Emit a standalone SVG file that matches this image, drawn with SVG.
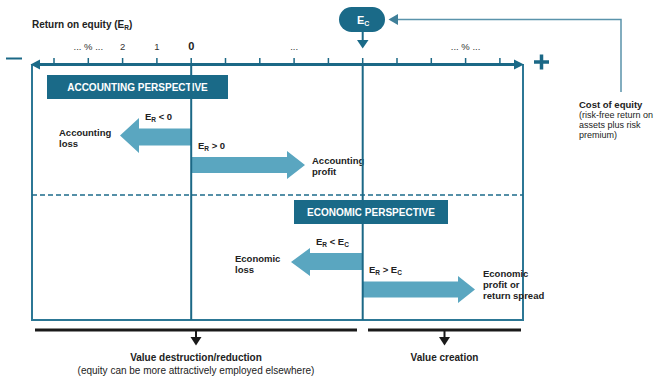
<svg xmlns="http://www.w3.org/2000/svg" width="660" height="380" viewBox="0 0 660 380">
<defs>
<style>
text{font-family:"Liberation Sans",Arial,sans-serif;fill:#222}
.b{font-weight:bold}
.lbl{font-size:9.5px;font-weight:bold}
.tick{font-size:9.5px;fill:#333}
.sub{font-size:6.5px}
.hdr{font-size:10px;font-weight:bold;fill:#fff}
.dark{fill:#1a6a88}
.light{fill:#5aa6c0}
.vl{stroke:#1b6886;stroke-width:2;fill:none}
.tk{stroke:#1b6886;stroke-width:1.5}
.blk{stroke:#1a1a1a;stroke-width:3}
</style>
</defs>
<rect width="660" height="380" fill="#fff"/>

<g id="frame">
<path d="M32,64 V320 H523 V64" fill="none" stroke="#2c7795" stroke-width="2"/>
<line x1="32" y1="195" x2="523" y2="195" stroke="#1d6b8a" stroke-width="1.5" stroke-dasharray="5 3"/>
</g>

<g id="axis">
<line x1="38" y1="64.5" x2="517" y2="64.5" stroke="#1b6886" stroke-width="3"/>
<polygon class="dark" points="30.5,64.5 40,59.5 40,69.5"/>
<polygon class="dark" points="524,64.5 514,59.5 514,69.5"/>
<g>
<line class="tk" x1="54" y1="58" x2="54" y2="64"/>
<line class="tk" x1="88.3" y1="58" x2="88.3" y2="64"/>
<line class="tk" x1="122.6" y1="58" x2="122.6" y2="64"/>
<line class="tk" x1="156.9" y1="58" x2="156.9" y2="64"/>
<line class="tk" x1="191.2" y1="58" x2="191.2" y2="64"/>
<line class="tk" x1="225.5" y1="58" x2="225.5" y2="64"/>
<line class="tk" x1="259.8" y1="58" x2="259.8" y2="64"/>
<line class="tk" x1="294.1" y1="58" x2="294.1" y2="64"/>
<line class="tk" x1="328.4" y1="58" x2="328.4" y2="64"/>
<line class="tk" x1="362.7" y1="58" x2="362.7" y2="64"/>
<line class="tk" x1="397" y1="58" x2="397" y2="64"/>
<line class="tk" x1="431.3" y1="58" x2="431.3" y2="64"/>
<line class="tk" x1="465.6" y1="58" x2="465.6" y2="64"/>
<line class="tk" x1="499.9" y1="58" x2="499.9" y2="64"/>
</g>
<text class="tick" x="88.3" y="50" text-anchor="middle">... % ...</text>
<text class="tick" x="122.6" y="50" text-anchor="middle">2</text>
<text class="tick" x="156.9" y="50" text-anchor="middle">1</text>
<text x="191.2" y="49.5" text-anchor="middle" class="b" style="font-size:11px">0</text>
<text class="tick" x="294.1" y="50" text-anchor="middle">...</text>
<text class="tick" x="465.6" y="50" text-anchor="middle">... % ...</text>
<text class="b" x="32" y="28" style="font-size:10px">Return on equity (E<tspan class="sub" dy="2">R</tspan><tspan dy="-2">)</tspan></text>
<line x1="6" y1="58.5" x2="22" y2="58.5" stroke="#1b6886" stroke-width="2"/>
<path d="M534,62 H549 M541.5,54.5 V69.5" stroke="#1b6886" stroke-width="3.5"/>
</g>

<g id="accounting-perspective">
<rect class="dark" x="47" y="75" width="181" height="24"/>
<text class="hdr" x="137.5" y="90.5" text-anchor="middle">ACCOUNTING PERSPECTIVE</text>
</g>

<g id="economic-perspective">
<rect class="dark" x="294" y="200" width="154" height="24"/>
<text class="hdr" x="371" y="215.5" text-anchor="middle">ECONOMIC PERSPECTIVE</text>
</g>

<g id="accounting-loss">
<polygon class="light" points="191,128.5 139,128.5 139,118 120,135.5 139,153 139,145.5 191,145.5"/>
<text class="lbl" x="145" y="120">E<tspan class="sub" dy="2">R</tspan><tspan dy="-2"> &lt; 0</tspan></text>
<text class="lbl" x="59" y="136">Accounting</text>
<text class="lbl" x="59" y="147">loss</text>
</g>

<g id="accounting-profit">
<polygon class="light" points="191,157 287,157 287,151 305,165 287,179 287,173 191,173"/>
<text class="lbl" x="198" y="148.5">E<tspan class="sub" dy="2">R</tspan><tspan dy="-2"> &gt; 0</tspan></text>
<text class="lbl" x="312" y="163.5">Accounting</text>
<text class="lbl" x="312" y="175">profit</text>
</g>

<g id="economic-loss">
<polygon class="light" points="362,253 310,253 310,248 291,262 310,276 310,270 362,270"/>
<text class="lbl" x="316" y="245">E<tspan class="sub" dy="2">R</tspan><tspan dy="-2"> &lt; E</tspan><tspan class="sub" dy="2">C</tspan></text>
<text class="lbl" x="235" y="262">Economic</text>
<text class="lbl" x="235" y="272.5">loss</text>
</g>

<g id="economic-profit">
<polygon class="light" points="362,281.5 458,281.5 458,276 475,289.5 458,303 458,297.5 362,297.5"/>
<text class="lbl" x="369" y="272.5">E<tspan class="sub" dy="2">R</tspan><tspan dy="-2"> &gt; E</tspan><tspan class="sub" dy="2">C</tspan></text>
<text class="lbl" x="483" y="277">Economic</text>
<text class="lbl" x="483" y="288">profit or</text>
<text class="lbl" x="483" y="299">return spread</text>
</g>

<g id="dividers">
<line class="vl" x1="191.2" y1="65" x2="191.2" y2="320"/>
<line class="vl" x1="362.7" y1="65" x2="362.7" y2="320"/>
</g>

<g id="ec">
<rect class="dark" x="339" y="7" width="46" height="25" rx="12.5"/>
<text x="357" y="23.5" class="b" style="font-size:11px;fill:#fff">E<tspan style="font-size:7px;fill:#fff" dy="2.5">C</tspan></text>
</g>

<g id="cost-of-equity">
<text class="b" x="579" y="107.5" style="font-size:9.5px">Cost of equity</text>
<text x="579" y="117.5" style="font-size:9px">(risk-free return on</text>
<text x="579" y="127.5" style="font-size:9px">assets plus risk</text>
<text x="579" y="137.5" style="font-size:9px">premium)</text>
</g>

<g id="outcome-destruction">
<text class="b" x="196" y="360.5" text-anchor="middle" style="font-size:10px">Value destruction/reduction</text>
<text x="196" y="374" text-anchor="middle" style="font-size:10px">(equity can be more attractively employed elsewhere)</text>
</g>
<g id="outcome-creation">
<text class="b" x="444.5" y="360.5" text-anchor="middle" style="font-size:10px">Value creation</text>
</g>

<g id="connectors">
<line x1="362.7" y1="32" x2="362.7" y2="41" stroke="#1b6886" stroke-width="2"/>
<polygon class="dark" points="357,40 368.5,40 362.7,48.5"/>
<polyline points="621,92 621,19.5 397,19.5" fill="none" stroke="#5a93ab" stroke-width="1.5"/>
<polygon points="388.5,19.5 398,14 398,25" fill="#3f7f99"/>
<line class="blk" x1="35" y1="330" x2="357" y2="330"/>
<line class="blk" x1="368" y1="330" x2="521" y2="330"/>
<line x1="196" y1="330" x2="196" y2="338" stroke="#1a1a1a" stroke-width="2"/>
<polygon points="190.5,337 201.5,337 196,345.5" fill="#1a1a1a"/>
<line x1="444.5" y1="330" x2="444.5" y2="338" stroke="#1a1a1a" stroke-width="2"/>
<polygon points="439,337 450,337 444.5,345.5" fill="#1a1a1a"/>
</g>
</svg>
